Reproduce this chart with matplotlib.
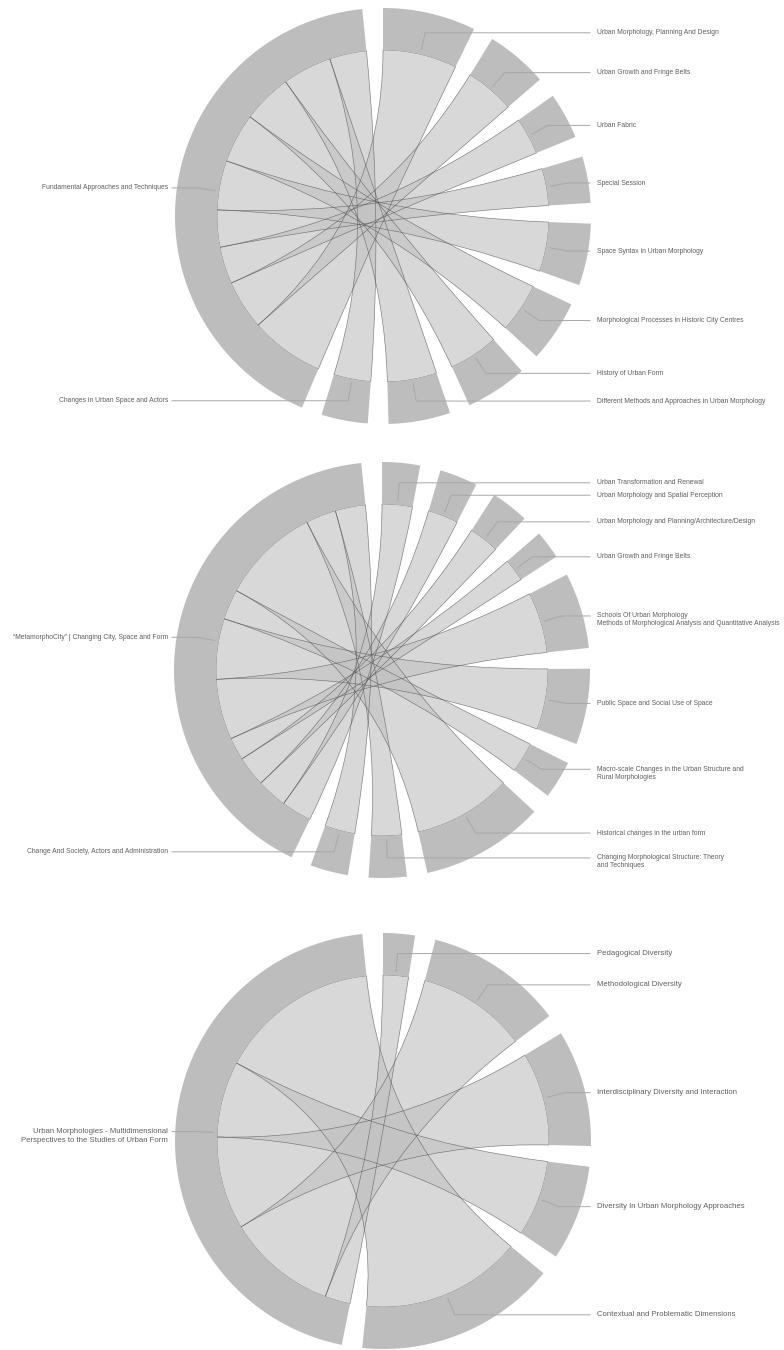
import matplotlib
matplotlib.use("Agg")
import numpy as np
import matplotlib.pyplot as plt
from matplotlib.path import Path
from matplotlib.patches import PathPatch, Polygon

plt.rcParams['font.family'] = ['Liberation Sans', 'DejaVu Sans']

# three congress editions: one hub theme linked to every session
hub1 = "Fundamental Approaches and Techniques"
sessions1 = ["Urban Morphology, Planning And Design", "Urban Growth and Fringe Belts",
             "Urban Fabric", "Special Session", "Space Syntax in Urban Morphology",
             "Morphological Processes in Historic City Centres", "History of Urban Form",
             "Different Methods and Approaches in Urban Morphology",
             "Changes in Urban Space and Actors"]
papers1 = [6, 4, 3, 3, 4, 4, 4, 4, 3]

hub2 = "\u201cMetamorphoCity\u201d | Changing City, Space and Form"
sessions2 = ["Urban Transformation and Renewal", "Urban Morphology and Spatial Perception",
             "Urban Morphology and Planning/Architecture/Design", "Urban Growth and Fringe Belts",
             "Schools Of Urban Morphology\nMethods of Morphological Analysis and Quantitative Analysis",
             "Public Space and Social Use of Space",
             "Macro-scale Changes in the Urban Structure and\nRural Morphologies",
             "Historical changes in the urban form",
             "Changing Morphological Structure: Theory\nand Techniques",
             "Change And Society, Actors and Administration"]
papers2 = [4, 4, 4, 3, 8, 8, 4, 13, 4, 4]

hub3 = "Urban Morphologies - Multidimensional\nPerspectives to the Studies of Urban Form"
sessions3 = ["Pedagogical Diversity", "Methodological Diversity",
             "Interdisciplinary Diversity and Interaction",
             "Diversity In Urban Morphology Approaches",
             "Contextual and Problematic Dimensions"]
papers3 = [3, 13, 11, 9, 19]

RING = '#bdbdbd'
RIB = '#c3c3c3'
TXT = '#5e5e5e'
LEAD = '#a8a8a8'
R_OUT, R_IN = 208, 166


def chord_layout(matrix, pad=0.1):
    n = len(matrix)
    k = (2 * np.pi - pad * n) / matrix.sum()
    groups, sub = [], {}
    x = 0.0
    for i in range(n):
        x0 = x
        for j in range(n):
            sub[(i, j)] = (x, x + matrix[i, j] * k)
            x += matrix[i, j] * k
        groups.append((x0, x))
        x += pad
    chords = [(sub[(i, j)], sub[(j, i)]) for i in range(n) for j in range(i + 1, n)
              if matrix[i, j] or matrix[j, i]]
    return groups, chords


def pt(c, r, a):
    return (c[0] + r * np.sin(a), c[1] - r * np.cos(a))


def draw_chord(ax, c, hub, sessions, papers, fs, lsp):
    n = len(sessions) + 1
    m = np.zeros((n, n))
    for i, v in enumerate(papers):
        m[i, n - 1] = v
        m[n - 1, i] = v
    groups, chords = chord_layout(m)

    for s, t in chords:
        verts, codes = [], []
        for k, a in enumerate(np.linspace(s[0], s[1], 40)):
            verts.append(pt(c, R_IN, a))
            codes.append(Path.MOVETO if k == 0 else Path.LINETO)
        verts += [c, pt(c, R_IN, t[0])]
        codes += [Path.CURVE3, Path.CURVE3]
        for a in np.linspace(t[0], t[1], 40)[1:]:
            verts.append(pt(c, R_IN, a))
            codes.append(Path.LINETO)
        verts += [c, pt(c, R_IN, s[0]), (0, 0)]
        codes += [Path.CURVE3, Path.CURVE3, Path.CLOSEPOLY]
        ax.add_patch(PathPatch(Path(verts, codes), facecolor=RIB, alpha=0.65,
                               edgecolor='none', zorder=1))
        ax.add_patch(PathPatch(Path(verts, codes), facecolor='none',
                               edgecolor='#555555', lw=0.45, alpha=0.75, zorder=1.5))

    labels = sessions + [hub]
    for (a0, a1), lab in zip(groups, labels):
        aa = np.linspace(a0, a1, 80)
        poly = [pt(c, R_OUT, a) for a in aa] + [pt(c, R_IN, a) for a in aa[::-1]]
        ax.add_patch(Polygon(poly, closed=True, facecolor=RING, edgecolor='none', zorder=2))

        mid = (a0 + a1) / 2
        p1, p2 = pt(c, 170, mid), pt(c, 188, mid)
        right = mid < np.pi
        xe = 590 if right else 172
        ax.plot([p1[0], p2[0], xe], [p1[1], p2[1], p2[1]], color=LEAD, lw=0.7, zorder=3)
        for k, line in enumerate(lab.split('\n')):
            ax.text(597 if right else 168, p2[1] + k * lsp, line, fontsize=fs, color=TXT,
                    ha='left' if right else 'right', va='center', zorder=4)


fig = plt.figure(figsize=(7.84, 13.5), dpi=100)
ax = fig.add_axes([0, 0, 1, 1])
ax.set_xlim(0, 784)
ax.set_ylim(1350, 0)
ax.axis('off')

draw_chord(ax, (383, 216), hub1, sessions1, papers1, 4.9, 8.0)
draw_chord(ax, (382, 670), hub2, sessions2, papers2, 4.9, 8.0)
draw_chord(ax, (383, 1141), hub3, sessions3, papers3, 5.6, 9.0)

fig.savefig('out.png', dpi=100)
